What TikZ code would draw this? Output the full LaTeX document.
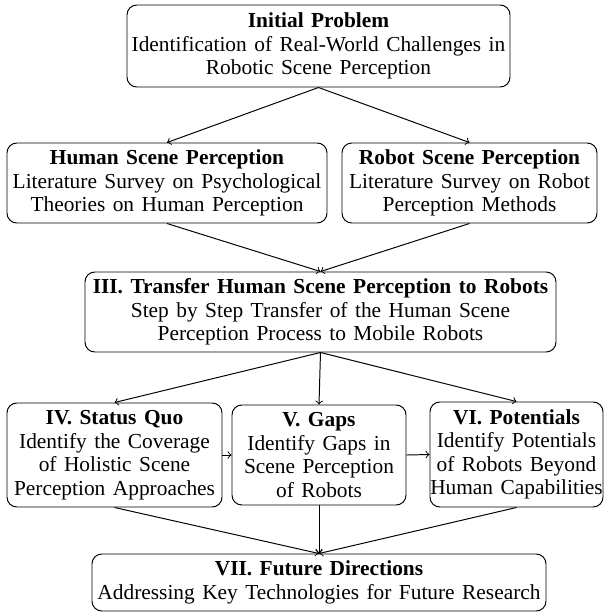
\documentclass[tikz,border=0pt]{standalone}
\usepackage{fontspec}
\setmainfont{Liberation Serif}[WordSpace=1.4]
\begin{document}
\begin{tikzpicture}[x=0.51pt,y=-0.51pt,
  box/.style n args={2}{draw, rounded corners=5pt, align=center, inner sep=0pt,
    line width=0.5pt, font=\fontsize{10.9}{12}\selectfont,
    minimum width=#1*0.51pt, minimum height=#2*0.51pt},
  arr/.style={->, line width=0.5pt}]
\useasboundingbox (0,0) rectangle (611,614);
\node[box={383}{82}] (init) at (318.5,46) {\textbf{Initial Problem}\\Identification of Real-World Challenges in\\Robotic Scene Perception};
\node[box={320}{80}] (human) at (167,183) {\textbf{Human Scene Perception}\\Literature Survey on Psychological\\Theories on Human Perception};
\node[box={255}{80}] (robot) at (469.5,183) {\textbf{Robot Scene Perception}\\Literature Survey on Robot\\Perception Methods};
\node[box={471}{80}] (transfer) at (320.5,312) {\textbf{III. Transfer Human Scene Perception to Robots}\\Step by Step Transfer of the Human Scene\\Perception Process to Mobile Robots};
\node[box={215}{104}] (status) at (114.5,455) {\textbf{IV. Status Quo}\\Identify the Coverage\\of Holistic Scene\\Perception Approaches};
\node[box={174}{100}] (gaps) at (319,455) {\textbf{V. Gaps}\\Identify Gaps in\\Scene Perception\\of Robots};
\node[box={173}{105}] (pot) at (516.5,454.5) {\textbf{VI. Potentials}\\Identify Potentials\\of Robots Beyond\\Human Capabilities};
\node[box={454}{57}] (future) at (319,582.5) {\textbf{VII. Future Directions}\\Addressing Key Technologies for Future Research};
\draw[arr] (init.south) -- (human.north);
\draw[arr] (init.south) -- (robot.north);
\draw[arr] (human.south) -- (transfer.north);
\draw[arr] (robot.south) -- (transfer.north);
\draw[arr] (transfer.south) -- (status.north);
\draw[arr] (transfer.south) -- (gaps.north);
\draw[arr] (transfer.south) -- (pot.north);
\draw[arr] (status.east) -- (gaps.west);
\draw[arr] (gaps.east) -- (pot.west);
\draw[arr] (status.south) -- (future.north);
\draw[arr] (gaps.south) -- (future.north);
\draw[arr] (pot.south) -- (future.north);
\end{tikzpicture}
\end{document}
